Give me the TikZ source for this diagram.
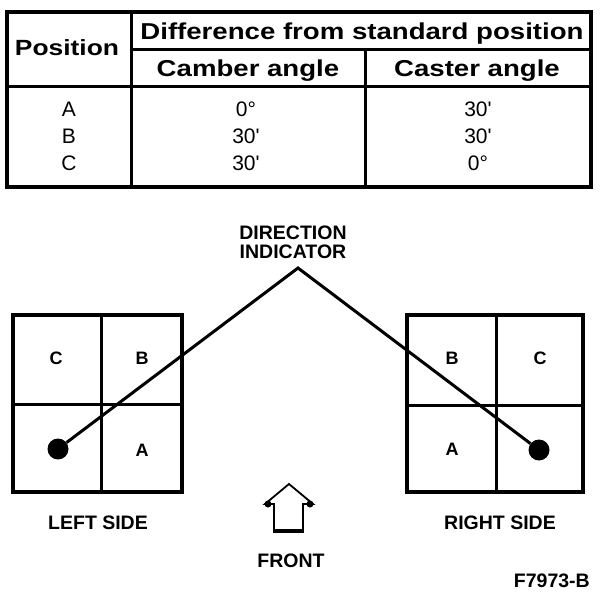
\documentclass[tikz,border=0pt]{standalone}
\usepackage{fontspec}
\setmainfont{Liberation Sans}
\newfontfamily\hdrfont[FakeStretch=1.2]{Liberation Sans}
\newcommand\qq{\textquotesingle}
\begin{document}
\begin{tikzpicture}[x=1pt,y=-1pt,
  hdr/.style={font=\hdrfont\bfseries\fontsize{23}{24}\selectfont, inner sep=0pt, anchor=base},
  dat/.style={font=\fontsize{21}{22}\selectfont, inner sep=0pt, anchor=base},
  lbl/.style={font=\bfseries\fontsize{19.5}{21}\selectfont, inner sep=0pt, anchor=base},
  cell/.style={font=\bfseries\fontsize{18}{19}\selectfont, inner sep=0pt},
  outer/.style={line width=4pt},
  inner/.style={line width=3pt},
  ind/.style={line width=3pt},
  dot/.style={circle, fill=black, minimum size=21pt, inner sep=0pt}]
\useasboundingbox (0,0) rectangle (608,596);
% table
\draw[outer] (7,12) rectangle (591,187);
\draw[inner] (131,12) -- (131,187);
\draw[inner] (131,50) -- (591,50);
\draw[inner] (7,87) -- (591,87);
\draw[inner] (365,50) -- (365,187);
\node[hdr, font=\hdrfont\bfseries\fontsize{22}{24}\selectfont] (hpos) at (67,56) {Position};
\node[hdr] (hdiff) at (362,40) {Difference from standard position};
\node[hdr] (hcam) at (248,77) {Camber angle};
\node[hdr] (hcas) at (477,77) {Caster angle};
\node[dat] (ra) at (69,117) {A};
\node[dat] (rb) at (69,144) {B};
\node[dat] (rc) at (69,171) {C};
\node[dat] (ca) at (246,117) {0°};
\node[dat] (cb) at (246,144) {30\qq};
\node[dat] (cc) at (246,171) {30\qq};
\node[dat] (sa) at (478,117) {30\qq};
\node[dat] (sb) at (478,144) {30\qq};
\node[dat] (sc) at (478,171) {0°};
% left grid
\draw[outer] (13,315) rectangle (182,492);
\draw[inner] (101,315) -- (101,492);
\draw[inner] (13,404) -- (182,404);
\node[cell] (lc) at (56,358) {C};
\node[cell] (lb) at (142,358) {B};
\node[cell] (la) at (142,450) {A};
% right grid
\draw[outer] (407,315) rectangle (583,492);
\draw[inner] (496,315) -- (496,492);
\draw[inner] (407,405) -- (583,405);
\node[cell] (rgb) at (452,358) {B};
\node[cell] (rgc) at (540,358) {C};
\node[cell] (rga) at (452,449) {A};
% direction indicator
\node[lbl] (dir1) at (293,239.5) {DIRECTION};
\node[lbl] (dir2) at (293,259) {INDICATOR};
\coordinate (apex) at (298,268);
\node[dot] (ldot) at (58,449) {};
\node[dot] (rdot) at (539,450) {};
\draw[ind, line join=miter] (ldot) -- (apex) -- (rdot);
% front arrow
\coordinate (ftip) at (289,484);
\draw[line width=1.8pt, line join=miter] (274,532) -- (274,504) -- (265,504) -- (ftip) -- (313,504) -- (303,504) -- (303,532);
\draw[line width=3.5pt] (273,531) -- (304,531);
\fill (268,504) circle (3.5pt);
\fill (310,504) circle (3.5pt);
\node[lbl] (front) at (291,567) {FRONT};
\node[lbl] (lside) at (98,529) {LEFT SIDE};
\node[lbl] (rside) at (500,529) {RIGHT SIDE};
\node[lbl, anchor=base east] (fig) at (590,587) {F7973-B};
\end{tikzpicture}
\end{document}
